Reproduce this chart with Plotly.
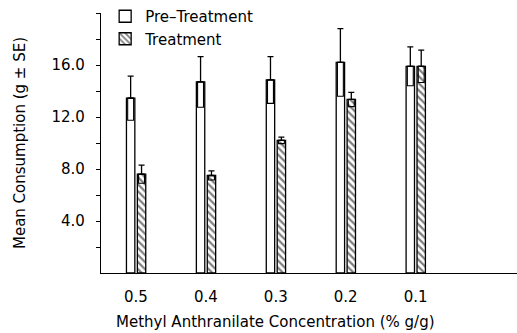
import plotly.graph_objects as go

concentrations = ["0.5", "0.4", "0.3", "0.2", "0.1"]
pre_mean = [13.45, 14.7, 14.85, 16.2, 15.9]
pre_se = [1.7, 1.95, 1.8, 2.6, 1.5]
trt_mean = [7.6, 7.5, 10.2, 13.35, 15.9]
trt_se = [0.7, 0.35, 0.25, 0.55, 1.25]

FONT = "DejaVu Sans"
BAR_W = 0.12
PRE_OFF = -0.136
TRT_OFF = 0.02
BOX_W = 0.085

fig = go.Figure()


def add_series(name, means, ses, off, pattern):
    marker = dict(color="white", line=dict(color="black", width=1.3))
    if pattern:
        marker["pattern"] = dict(shape="\\", fgcolor="black", bgcolor="white", size=5, solidity=0.45)
    fig.add_trace(go.Bar(
        x=concentrations, y=means, name=name, offset=off, width=BAR_W, marker=marker,
        error_y=dict(type="data", array=ses, arrayminus=[0 for _ in ses], symmetric=False,
                     visible=True, color="black", thickness=1.3, width=3),
    ))
    # lower half of the SE drawn as a box inside the bar
    fig.add_trace(go.Bar(
        x=concentrations, y=ses, base=[m - s for m, s in zip(means, ses)],
        offset=off + (BAR_W - BOX_W) / 2, width=BOX_W, showlegend=False, hoverinfo="skip",
        marker=dict(color="rgba(0,0,0,0)", line=dict(color="black", width=1.1)),
    ))


add_series("Pre\u2013Treatment", pre_mean, pre_se, PRE_OFF, False)
add_series("Treatment", trt_mean, trt_se, TRT_OFF, True)

fig.update_layout(
    width=517, height=333,
    margin=dict(l=101, r=0, t=12, b=60),
    paper_bgcolor="white", plot_bgcolor="white",
    font=dict(family=FONT, size=15, color="black"),
    showlegend=True, barmode="overlay",
    legend=dict(x=0.01, y=1.05, xanchor="left", yanchor="top", bgcolor="rgba(0,0,0,0)",
                font=dict(size=15), tracegroupgap=0, itemwidth=30),
    xaxis=dict(type="category", range=[-0.5, 5.45], showline=True, linecolor="black", linewidth=1.3,
               ticks="", showgrid=False, zeroline=False, ticklabelstandoff=10,
               tickfont=dict(size=15)),
    yaxis=dict(range=[0, 20], showline=True, linecolor="black", linewidth=1.3,
               tickvals=[4, 8, 12, 16, 20], ticktext=["4.0", "8.0", "12.0", "16.0", ""],
               ticks="outside", ticklen=4, tickwidth=1.3, tickcolor="black",
               minor=dict(tickvals=[2, 6, 10, 14, 18], ticks="outside", ticklen=4, tickwidth=1.3, tickcolor="black"),
               showgrid=False, zeroline=False, tickfont=dict(size=15), ticklabelstandoff=8,
               title=dict(text="Mean Consumption (g \u00b1 SE)", font=dict(size=15), standoff=22)),
    annotations=[dict(text="Methyl Anthranilate Concentration (% g/g)", xref="paper", yref="paper",
                      x=0.42, y=-0.19, xanchor="center", yanchor="middle", showarrow=False,
                      font=dict(size=15))],
)

fig.write_html("out.html")
